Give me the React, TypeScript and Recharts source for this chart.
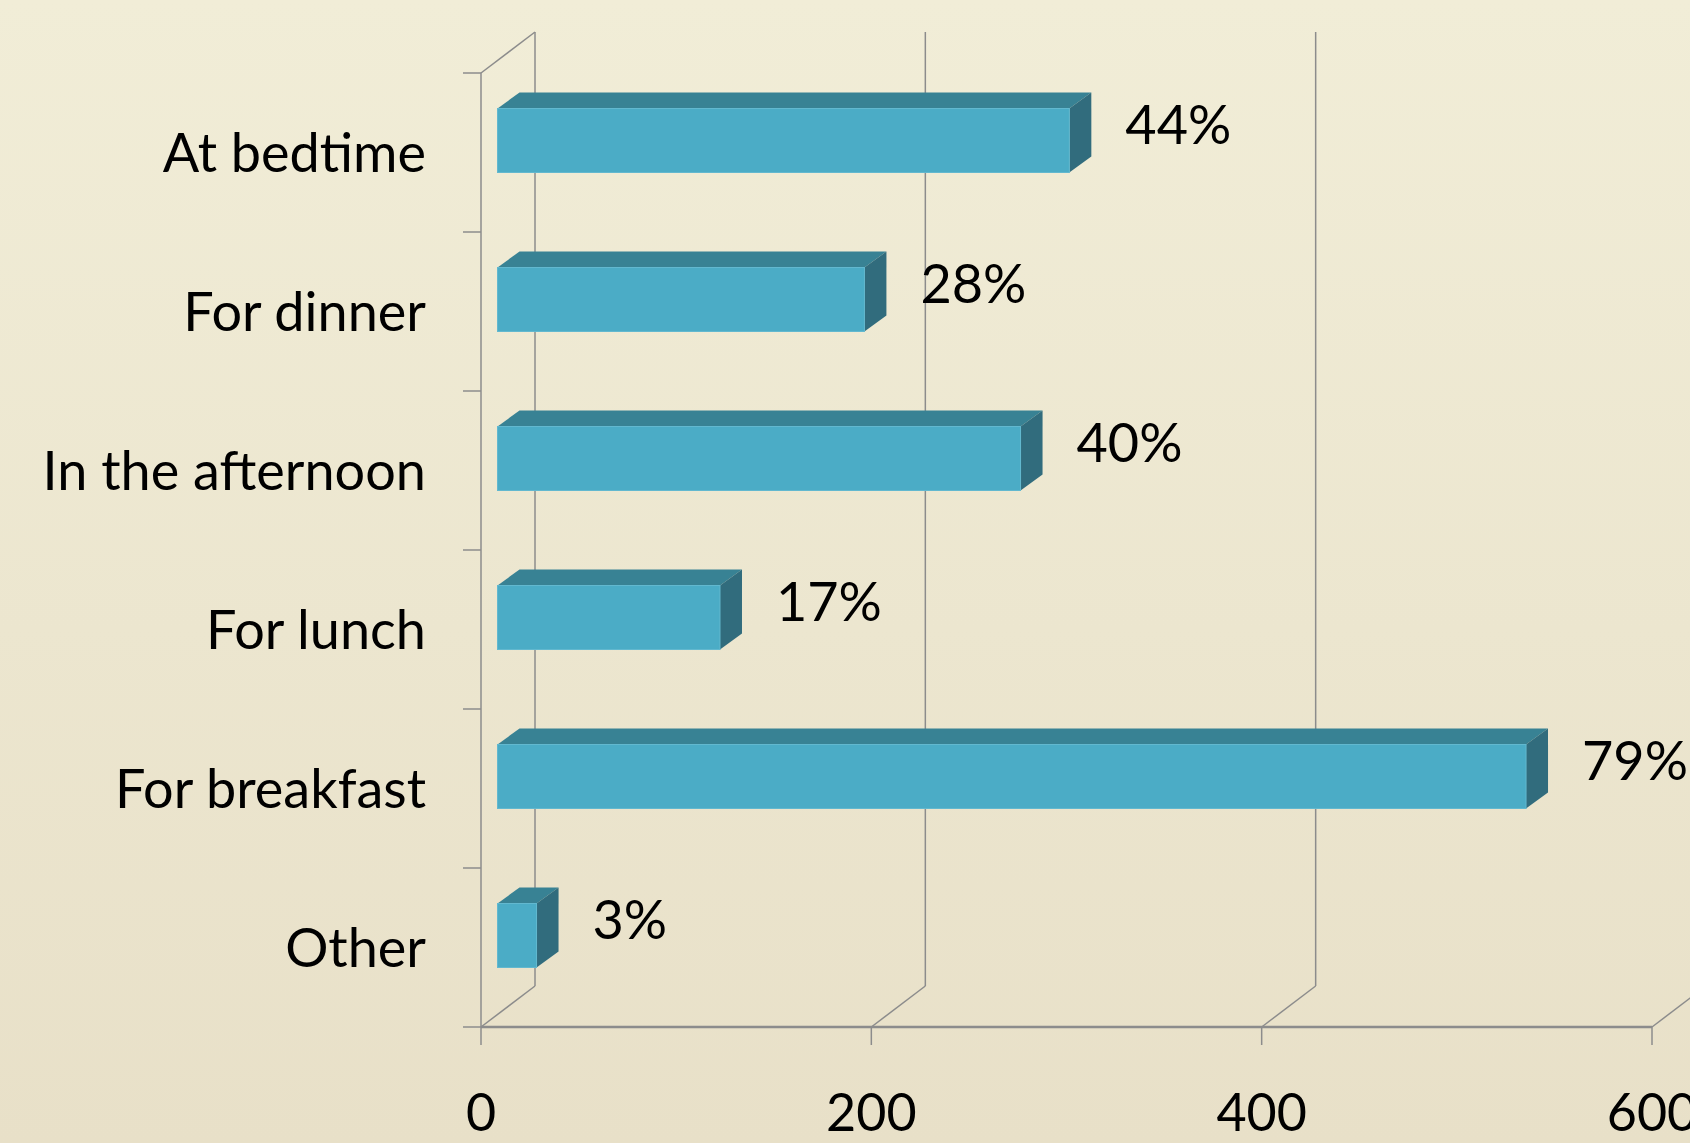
import { BarChart, Bar, XAxis, YAxis, CartesianGrid, LabelList } from 'recharts';

// when do people eat it (responses, n ≈ 667)
const categories = ['At bedtime', 'For dinner', 'In the afternoon', 'For lunch', 'For breakfast', 'Other'];
const responses = [293, 188, 268, 114, 527, 20];
const percentLabels = ['44%', '28%', '40%', '17%', '79%', '3%'];
const xTicks = [0, 200, 400, 600];

const data = categories.map((category, i) => ({
  category,
  value: responses[i],
  pct: percentLabels[i],
}));

const W = 1690;
const H = 1143;
const Y_AXIS_W = 481;
const GRID = '#8c8c8c';
const FONT = 'Lato, "Open Sans", sans-serif';

// fake 3d: wall depth and where the bars sit inside it
const WALL_DX = 54;
const WALL_DY = 41;
const BAR_OFF_X = 16.5;
const BAR_OFF_Y = 12.5;
const BAR_DX = 22;
const BAR_DY = 16;

const FRONT = '#4bacc6';
const TOP = '#388294';
const SIDE = '#316c7d';

function Bar3D(props: any) {
  const { x, y, width, height } = props;
  if (!width || width <= 0) return null;
  const fx = x + BAR_OFF_X;
  const fy = y - BAR_OFF_Y;
  const rx = fx + width;
  return (
    <g>
      <polygon
        points={`${fx},${fy} ${fx + BAR_DX},${fy - BAR_DY} ${rx + BAR_DX},${fy - BAR_DY} ${rx},${fy}`}
        fill={TOP}
      />
      <polygon
        points={`${rx},${fy} ${rx + BAR_DX},${fy - BAR_DY} ${rx + BAR_DX},${fy + height - BAR_DY} ${rx},${fy + height}`}
        fill={SIDE}
      />
      <rect x={fx} y={fy} width={width} height={height} fill={FRONT} stroke="#62b8cf" strokeWidth={1} />
    </g>
  );
}

function PctLabel(props: any) {
  const { x, y, width, value } = props;
  return (
    <text
      x={x + BAR_OFF_X + width + BAR_DX + 34}
      y={y + 4}
      dy="0.35em"
      fontSize={54}
      fontFamily={FONT}
      fill="#000"
    >
      {value}
    </text>
  );
}

function WallLine(p: any) {
  const { x1, y1, y2 } = p;
  const first = Math.abs(x1 - Y_AXIS_W) < 1;
  return (
    <g key={p.key}>
      <line x1={x1 + WALL_DX} y1={y1 - WALL_DY} x2={x1 + WALL_DX} y2={y2 - WALL_DY} stroke={GRID} strokeWidth={1.5} />
      <line x1={x1} y1={y2} x2={x1 + WALL_DX} y2={y2 - WALL_DY} stroke={GRID} strokeWidth={1.5} />
      {first && <line x1={x1} y1={y1} x2={x1 + WALL_DX} y2={y1 - WALL_DY} stroke={GRID} strokeWidth={1.5} />}
    </g>
  );
}

function CatTick(p: any) {
  const { x1, y1 } = p;
  return <line key={p.key} x1={x1 - 18} y1={y1} x2={x1} y2={y1} stroke={GRID} strokeWidth={1.5} />;
}

export default function App() {
  return (
    <div
      style={{
        position: 'fixed',
        left: 0,
        top: 0,
        width: W,
        height: H,
        background: 'linear-gradient(to bottom, #f1edd7 0%, #ece6cf 55%, #e8e0c8 100%)',
        overflow: 'hidden',
      }}
    >
      <BarChart
        width={W}
        height={H}
        data={data}
        layout="vertical"
        margin={{ top: 73, right: 38, bottom: 0, left: 0 }}
      >
        <CartesianGrid
          horizontal={CatTick}
          vertical={WallLine}
          horizontalCoordinatesGenerator={({ offset }: any) =>
            Array.from({ length: categories.length + 1 }, (_, i) => offset.top + (i * offset.height) / categories.length)
          }
        />
        <XAxis
          type="number"
          domain={[0, 600]}
          ticks={xTicks}
          height={116}
          axisLine={{ stroke: GRID, strokeWidth: 2.5 }}
          tickLine={{ stroke: GRID, strokeWidth: 1.5 }}
          tickSize={18}
          tickMargin={49}
          tick={{ fontSize: 52, fill: '#000', fontFamily: FONT }}
          interval={0}
        />
        <YAxis
          type="category"
          dataKey="category"
          width={Y_AXIS_W}
          axisLine={{ stroke: GRID, strokeWidth: 1.5 }}
          tickLine={false}
          tickSize={0}
          tickMargin={55}
          tick={{ fontSize: 54, fill: '#000', fontFamily: FONT }}
          interval={0}
        />
        <Bar dataKey="value" barSize={64} shape={Bar3D} isAnimationActive={false}>
          <LabelList dataKey="pct" content={PctLabel} />
        </Bar>
      </BarChart>
    </div>
  );
}
